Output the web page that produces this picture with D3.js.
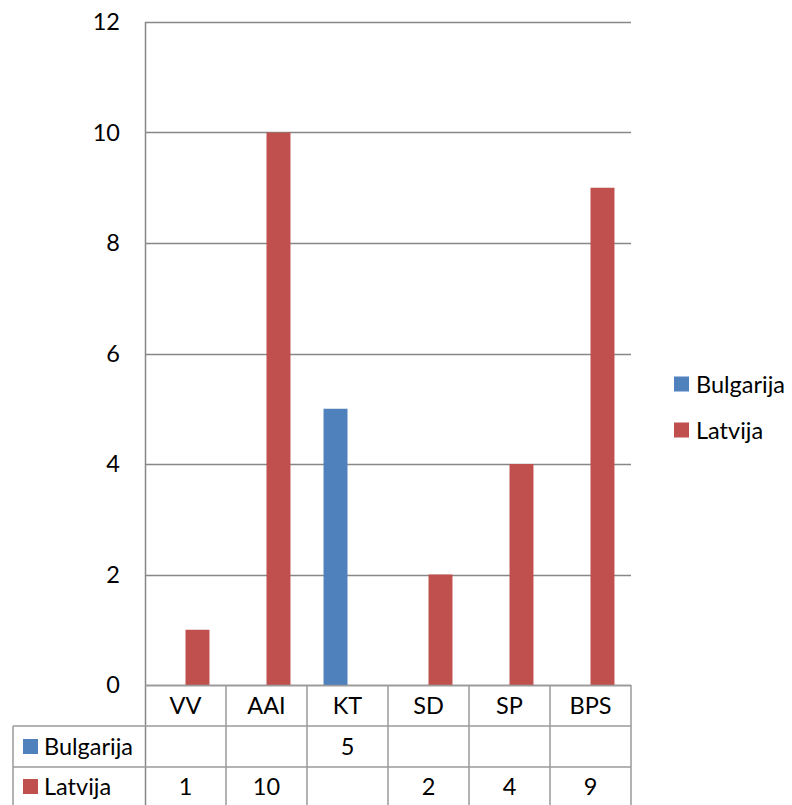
<!DOCTYPE html>
<html><head><meta charset="utf-8">
<script src="https://cdn.jsdelivr.net/npm/d3@7"></script>
<style>body{margin:0;background:#fff}svg{display:block}text{font-family:Lato,"Open Sans",sans-serif;fill:#000}</style>
</head><body><svg id="c" width="792" height="805"></svg>
<script>
const categories = ["VV","AAI","KT","SD","SP","BPS"];
const seriesNames = ["Bulgarija","Latvija"];
const bulgarija = [null,null,5,null,null,null];
const latvija = [1,10,null,2,4,9];
const yTicks = [0,2,4,6,8,10,12];
const colors = ["#4F81BD","#C0504D"];

const FS = "23.5px";
const svg = d3.select("#c");
const L=145,R=631,T=22,B=685;
const x = d3.scaleBand().domain(categories).range([L,R]);
const xs = d3.scaleBand().domain(seriesNames).range([0,x.bandwidth()]).paddingInner(0).paddingOuter(0.69);
const y = d3.scaleLinear().domain([0,12]).range([B,T]);
const grid = "#878787", tbl = "#9a9a9a";

// gridlines
svg.append("g").selectAll("line").data(yTicks).join("line")
  .attr("x1",L).attr("x2",R).attr("y1",d=>Math.round(y(d))+0.5).attr("y2",d=>Math.round(y(d))+0.5)
  .attr("stroke",grid).attr("stroke-width",1.5);
// y labels
const yAxis = d3.axisLeft(y).tickValues(yTicks).tickSize(0).tickPadding(25);
const ga = svg.append("g").attr("transform",`translate(${L},0)`).call(yAxis);
ga.select(".domain").remove();
ga.selectAll("text").style("font-size",FS).style("font-family","Lato,'Open Sans',sans-serif");

// bars
const data = [bulgarija, latvija];
data.forEach((arr,si)=>{
  svg.append("g").selectAll("rect").data(categories.map((c,i)=>({c,v:arr[i]})).filter(d=>d.v!=null)).join("rect")
    .attr("x",d=>x(d.c)+xs(seriesNames[si])).attr("width",xs.bandwidth())
    .attr("y",d=>y(d.v)).attr("height",d=>B-y(d.v)).attr("fill",colors[si]);
});

// axis line left
svg.append("line").attr("x1",L+0.5).attr("x2",L+0.5).attr("y1",T).attr("y2",805).attr("stroke",grid).attr("stroke-width",1.5);

// data table
const rowY = [685,726,767,806];
const TL = 13;
const tg = svg.append("g");
tg.append("line").attr("x1",L).attr("x2",R).attr("y1",rowY[0]+0.5).attr("y2",rowY[0]+0.5).attr("stroke",tbl).attr("stroke-width",1.5);
[rowY[1],rowY[2]].forEach(yy=>tg.append("line").attr("x1",TL).attr("x2",R).attr("y1",yy).attr("y2",yy).attr("stroke",tbl).attr("stroke-width",1.5));
tg.append("line").attr("x1",TL).attr("x2",TL).attr("y1",rowY[1]).attr("y2",805).attr("stroke",tbl).attr("stroke-width",1.5);
categories.forEach(c=>{
  const xx = x(c)+x.bandwidth();
  tg.append("line").attr("x1",xx).attr("x2",xx).attr("y1",rowY[0]).attr("y2",805).attr("stroke",tbl).attr("stroke-width",1.5);
});
tg.selectAll("text.cat").data(categories).join("text").attr("class","cat")
  .attr("x",d=>x(d)+x.bandwidth()/2).attr("y",(rowY[0]+rowY[1])/2+8.5).attr("text-anchor","middle")
  .style("font-size",FS).text(d=>d);
data.forEach((arr,si)=>{
  const cy = (rowY[si+1]+rowY[si+2])/2;
  tg.append("rect").attr("x",23).attr("y",cy-7.5).attr("width",15).attr("height",15).attr("fill",colors[si]);
  tg.append("text").attr("x",44).attr("y",cy+8.5).style("font-size",FS).text(seriesNames[si]);
  tg.selectAll(null).data(categories.map((c,i)=>({c,v:arr[i]})).filter(d=>d.v!=null)).join("text")
    .attr("x",d=>x(d.c)+x.bandwidth()/2).attr("y",cy+8.5).attr("text-anchor","middle")
    .style("font-size",FS).text(d=>d.v);
});

// legend
const lg = svg.append("g");
seriesNames.forEach((s,i)=>{
  const cy = 384 + i*46;
  lg.append("rect").attr("x",674).attr("y",cy-7.5).attr("width",15).attr("height",15).attr("fill",colors[i]);
  lg.append("text").attr("x",696).attr("y",cy+8.5).style("font-size",FS).text(s);
});
</script></body></html>
